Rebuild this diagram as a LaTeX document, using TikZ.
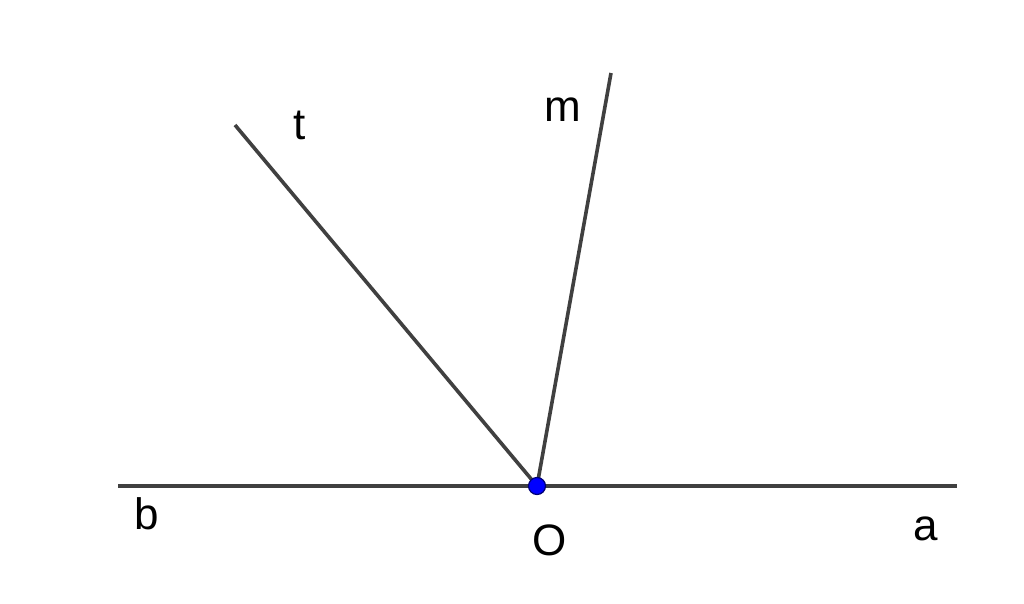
\documentclass[tikz,border=0pt]{standalone}
\usepackage{fontspec}
\setmainfont{Liberation Sans}
\usepackage{tikz}
\usetikzlibrary{positioning}
\definecolor{raygray}{RGB}{64,64,64}
\definecolor{dotblue}{RGB}{0,0,255}

\begin{document}
\begin{tikzpicture}[x=1pt,y=1pt,
  ray/.style={draw=raygray,line width=3.6pt},
  label node/.style={inner sep=0pt,anchor=base,font=\fontsize{44}{48}\selectfont},
  point node/.style={circle,fill=dotblue,draw=blue!45!black,line width=1.2pt,minimum size=17pt,inner sep=0pt}]
	\useasboundingbox (0,0) rectangle (1024,603);
					\coordinate (O) at (537,117);
					\coordinate (Bend) at (118,117);
					\coordinate (Aend) at (957,117);
					\coordinate (Tend) at (235,478);
					\coordinate (Mend) at (611,530);
				\path[ray]
					(Bend) edge (Aend)
					(O) edge (Tend)
					(O) edge (Mend);
					\node[point node] (Odot) at (O) {};
					\node[label node] (Tlabel) at (300,463) {t};
					\node[label node] (Mlabel) at (563,481) {m};
					\node[label node] (Olabel) at (550,48) {O};
					\node[label node] (Blabel) at (147,74) {b};
					\node[label node] (Alabel) at (926,63) {a};
\end{tikzpicture}
\end{document}
